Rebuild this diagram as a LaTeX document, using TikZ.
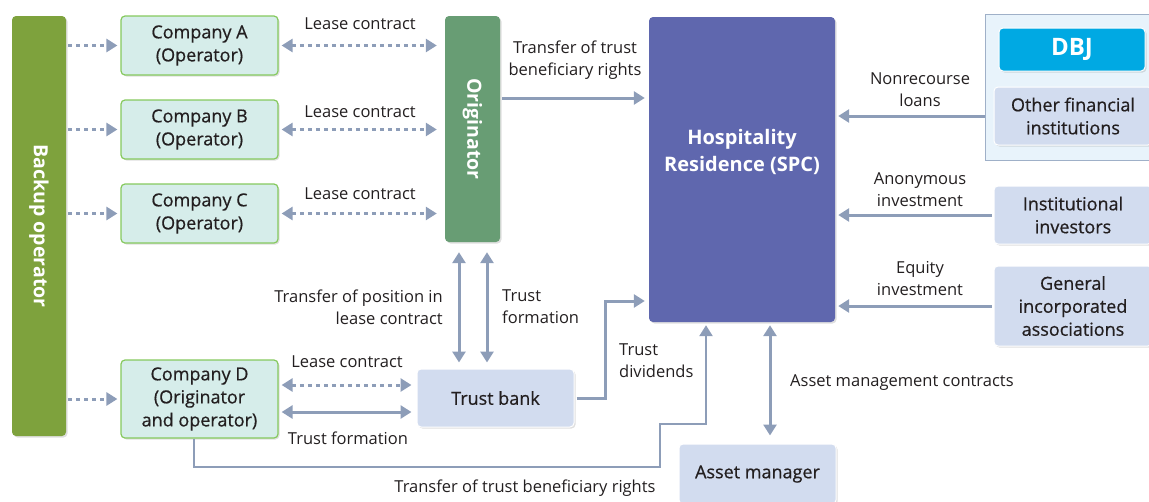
\documentclass[tikz,border=0pt]{standalone}
\usepackage{fontspec}
\setmainfont{Open Sans}
\newfontfamily\boxfont[FakeBold=0.6]{Open Sans}
\usetikzlibrary{arrows.meta,shadows,calc}
\definecolor{txt}{HTML}{231F20}
\definecolor{barc}{HTML}{7EA23D}
\definecolor{cfill}{HTML}{D6EDEA}
\definecolor{cborder}{HTML}{86C95E}
\definecolor{origc}{HTML}{689D74}
\definecolor{spcc}{HTML}{5F67AE}
\definecolor{dbjc}{HTML}{00A9E3}
\definecolor{bfill}{HTML}{D2DCEF}
\definecolor{gfill}{HTML}{E8F3FB}
\definecolor{gborder}{HTML}{9FB0C8}
\definecolor{acol}{HTML}{8D9DB8}
\newcommand\myfs{\fontsize{16.5}{22}\selectfont}
\newcommand\myboxfs{\boxfont\fontsize{18}{23}\selectfont}
\newcommand\mybf{\fontsize{19.5}{26}\selectfont\bfseries}
\begin{document}
\begin{tikzpicture}[x=1pt,y=-1pt,
  box/.style={rounded corners=4pt, align=center, inner sep=0pt, text=txt, font=\myboxfs,
    drop shadow={opacity=0.25, shadow xshift=1.5pt, shadow yshift=-1.5pt}},
  cbox/.style={box, fill=cfill, draw=cborder, line width=1.2pt, minimum width=157pt},
  bbox/.style={box, fill=bfill, draw=white, line width=1pt, minimum width=157pt},
  dbox/.style={box, text=white, font=\mybf},
  arr/.style={draw=acol, line width=3pt, -{Triangle[length=11pt,width=13pt]}},
  darr/.style={draw=acol, line width=3pt, {Triangle[length=11pt,width=13pt]}-{Triangle[length=11pt,width=13pt]}},
  dots/.style={dash pattern=on 4pt off 4pt},
  lbl/.style={text=txt, align=center, font=\myfs, inner sep=0pt}]
\useasboundingbox (0,0) rectangle (1149,501);
% nodes
\node[dbox, fill=barc, minimum width=54pt, minimum height=420pt] (bar) at (39,226) {};
\node[text=white, font=\mybf, rotate=-90] (barT) at (bar.center) {Backup operator};
\node[cbox, minimum height=59pt] (A) at (199.5,45.5) {Company A\\(Operator)};
\node[cbox, minimum height=59pt] (B) at (199.5,129.5) {Company B\\(Operator)};
\node[cbox, minimum height=59pt] (C) at (199.5,213.5) {Company C\\(Operator)};
\node[cbox, minimum height=78pt] (D) at (199.5,399) {Company D\\(Originator\\and operator)};
\node[dbox, fill=origc, minimum width=55pt, minimum height=226pt] (orig) at (472.5,129) {};
\node[text=white, font=\mybf, rotate=-90] (origT) at (orig.center) {Originator};
\node[dbox, fill=spcc, minimum width=186pt, minimum height=305pt] (SPC) at (742,169.5) {};
\node[text=white, align=center, inner sep=0pt, font=\fontsize{20}{27}\selectfont\bfseries] (SPCT) at (742,152) {Hospitality\\Residence (SPC)};
\node[draw=gborder, fill=gfill, line width=1pt, minimum width=175pt, minimum height=146pt, inner sep=0pt] (group) at (1072.5,87) {};
\node[dbox, fill=dbjc, draw=white, line width=1pt, minimum width=146pt, minimum height=43pt, font=\fontsize{24}{28}\selectfont\bfseries] (DBJ) at (1072,49.5) {DBJ};
\node[bbox, minimum width=158pt, minimum height=58pt] (OFI) at (1073,116) {Other financial\\institutions};
\node[bbox, minimum width=158pt, minimum height=58pt] (II) at (1073,215) {Institutional\\investors};
\node[bbox, minimum width=158pt, minimum height=80pt] (GIA) at (1073,306) {General\\incorporated\\associations};
\node[bbox, minimum height=58pt] (TB) at (495.5,398) {Trust bank};
\node[bbox, minimum height=60pt] (AM) at (757.5,474) {Asset manager};
% coordinates
\coordinate (t1) at (0,98);
\coordinate (h1) at (0,385);
\coordinate (h2) at (0,412);
\coordinate (v1) at (459,0);
\coordinate (v2) at (487,0);
\coordinate (td) at (605,301);
\coordinate (r1) at (194,467);
\coordinate (r2) at (660,424);
\coordinate (r3) at (706,0);
\coordinate (am) at (770,0);
% backup operator arrows
\foreach \n in {A,B,C,D}
  \draw[arr, dots, shorten <=2pt, shorten >=3pt] (bar.east |- \n.west) -- (\n.west);
% lease contracts
\foreach \n in {A,B,C}
  \draw[darr, dots, shorten <=3pt, shorten >=8pt] (\n.east) -- (orig.west |- \n.east);
\node[lbl] (l1) at (360,24) {Lease contract};
\node[lbl] (l2) at (360,112) {Lease contract};
\node[lbl] (l3) at (360,194) {Lease contract};
% transfer of trust beneficiary rights (top)
\draw[arr, shorten <=2pt, shorten >=4pt] (orig.east |- t1) -- (SPC.west |- t1);
\node[lbl] (l4) at (575,60) {Transfer of trust\\beneficiary rights};
% right side
\draw[arr, shorten >=3pt] (group.west |- OFI.west) -- (SPC.east |- OFI.west);
\draw[arr, shorten <=2pt, shorten >=3pt] (II.west) -- (SPC.east |- II.west);
\draw[arr, shorten <=2pt, shorten >=3pt] (GIA.west) -- (SPC.east |- GIA.west);
\node[lbl] (l5) at (920,90) {Nonrecourse\\loans};
\node[lbl] (l6) at (920,190) {Anonymous\\investment};
\node[lbl] (l7) at (920,279) {Equity\\investment};
% originator <-> trust bank
\draw[darr, shorten <=10pt, shorten >=6pt] (v1 |- orig.south) -- (v1 |- TB.north);
\draw[darr, shorten <=10pt, shorten >=6pt] (v2 |- orig.south) -- (v2 |- TB.north);
\node[lbl, anchor=east, align=right] (l8) at (443,307) {Transfer of position in\\lease contract};
\node[lbl, anchor=west, align=left] (l9) at (502,307) {Trust\\formation};
% company D <-> trust bank
\draw[darr, dots, shorten <=3pt, shorten >=5pt] (D.east |- h1) -- (TB.west |- h1);
\draw[darr, shorten <=3pt, shorten >=5pt] (D.east |- h2) -- (TB.west |- h2);
\node[lbl] (l10) at (347,362) {Lease contract};
\node[lbl] (l11) at (348,438) {Trust formation};
% trust dividends
\draw[arr, shorten <=2pt, shorten >=4pt] (TB.east) -| (td) -- (SPC.west |- td);
\node[lbl, anchor=west, align=left] (l12) at (619,361) {Trust\\dividends};
% company D -> SPC
\draw[arr, line width=2.5pt, shorten >=3pt] (D.south -| r1) |- (r2 |- r1) -- (r2) -| (r3 |- SPC.south);
\node[lbl] (l13) at (525,488) {Transfer of trust beneficiary rights};
% asset management
\draw[darr, shorten <=3pt, shorten >=8pt] (am |- SPC.south) -- (am |- AM.north);
\node[lbl, anchor=west] (l14) at (790,383) {Asset management contracts};
\end{tikzpicture}
\end{document}
